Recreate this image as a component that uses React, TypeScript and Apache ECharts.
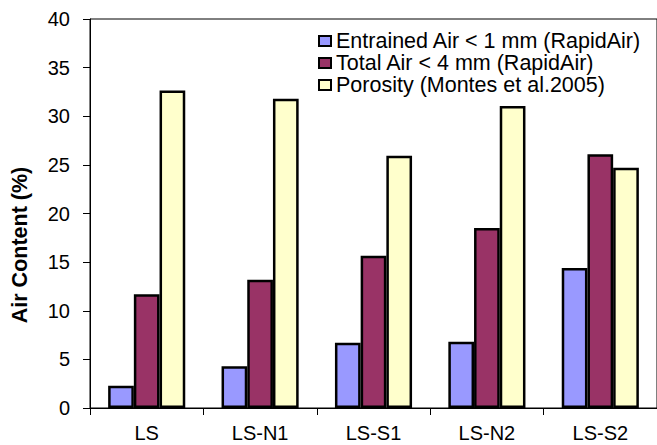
import React, { useEffect, useRef } from "react";
import * as echarts from "echarts";

const categories = ["LS", "LS-N1", "LS-S1", "LS-N2", "LS-S2"];
const entrainedAir = [2.3, 4.3, 6.7, 6.8, 14.4];
const totalAir = [11.7, 13.2, 15.65, 18.5, 26.1];
const porosity = [32.65, 31.8, 25.95, 31.05, 24.7];
const seriesNames = [
  "Entrained Air < 1 mm (RapidAir)",
  "Total Air < 4 mm (RapidAir)",
  "Porosity (Montes et al.2005)",
];
const seriesColors = ["#9999FF", "#993366", "#FFFFCC"];
const yTitle = "Air Content (%)";

const FONT = "'Liberation Sans', Arial, sans-serif";

export default function App() {
  const ref = useRef<HTMLDivElement>(null);
  useEffect(() => {
    if (!ref.current) return;
    const chart = echarts.init(ref.current, undefined, { renderer: "svg" });
    const data = [entrainedAir, totalAir, porosity];
    chart.setOption({
      animation: false,
      backgroundColor: "#ffffff",
      grid: {
        left: 90,
        top: 19,
        bottom: 37,
        right: -6,
        show: true,
        borderColor: "#000",
        borderWidth: 1,
        backgroundColor: "transparent",
      },
      legend: {
        orient: "vertical",
        left: 318,
        top: 30,
        padding: 0,
        itemWidth: 12,
        itemHeight: 10,
        itemGap: 0,
        icon: "rect",
        itemStyle: { borderColor: "#000", borderWidth: 2 },
        textStyle: {
          fontFamily: FONT,
          fontSize: 21.5,
          color: "#000",
          lineHeight: 21.6,
        },
        data: seriesNames,
      },
      xAxis: {
        type: "category",
        data: categories,
        axisLine: { lineStyle: { color: "#000", width: 1 } },
        axisTick: { show: true, length: 7, lineStyle: { color: "#000" } },
        axisLabel: { fontFamily: FONT, fontSize: 20, color: "#000", margin: 15 },
      },
      yAxis: {
        type: "value",
        min: 0,
        max: 40,
        interval: 5,
        splitLine: { show: false },
        axisLine: { show: true, lineStyle: { color: "#000", width: 1 } },
        axisTick: { show: true, length: 7, lineStyle: { color: "#000" } },
        axisLabel: { fontFamily: FONT, fontSize: 20, color: "#000", margin: 20 },
      },
      graphic: [
        {
          type: "text",
          x: 20,
          y: 245,
          rotation: Math.PI / 2,
          style: {
            text: yTitle,
            fontFamily: FONT,
            fontSize: 21.5,
            fontWeight: "bold",
            fill: "#000",
            align: "center",
            verticalAlign: "middle",
          },
        },
      ],
      series: seriesNames.map((name, i) => ({
        name,
        type: "bar",
        data: data[i],
        barGap: "0%",
        barCategoryGap: "32%",
        itemStyle: {
          color: seriesColors[i],
          borderColor: "#000",
          borderWidth: 2.5,
        },
      })),
    });
    return () => chart.dispose();
  }, []);
  return (
    <div
      ref={ref}
      style={{ position: "absolute", left: 0, top: 0, width: 657, height: 445 }}
    />
  );
}
